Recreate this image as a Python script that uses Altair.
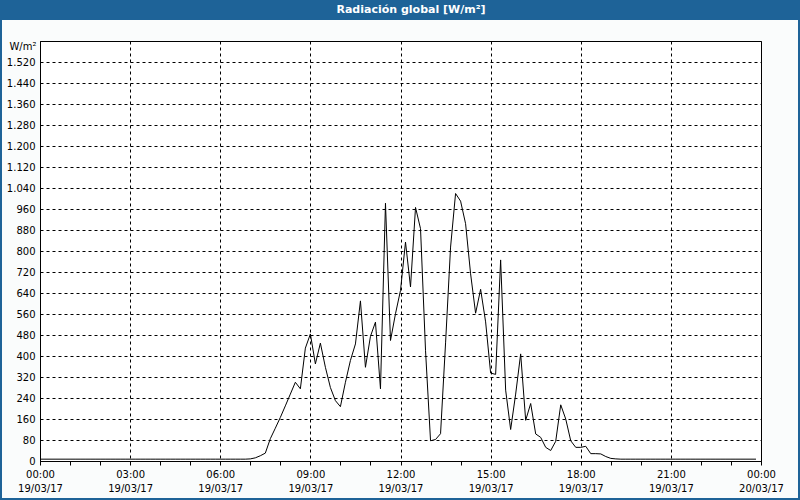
import altair as alt
import pandas as pd

# 10-minute samples over the day 19/03/17
times = [f"{h:02d}:{m:02d}" for h in range(24) for m in range(0, 60, 10)]
night_am = [7] * 42          # 00:00 - 06:50
daytime = [8, 12, 20, 30, 85, 125, 166, 210, 255, 300,
           275, 430, 484, 370, 449, 357, 280, 230, 207, 300,
           383, 446, 610, 357, 475, 529, 275, 982, 459, 561,
           650, 834, 663, 966, 885, 420, 77, 82, 104, 450,
           815, 1019, 990, 904, 713, 563, 654, 530, 335, 330,
           766, 270, 120, 255, 408, 155, 219, 103, 90, 52,
           40, 75, 214, 160, 77, 52, 52, 56, 28, 28,
           27, 17, 10, 8]   # 07:00 - 19:10
night_pm = [7] * 28          # 19:20 - 23:50
radiation = night_am + daytime + night_pm

tick_times = ["00:00", "03:00", "06:00", "09:00", "12:00", "15:00", "18:00", "21:00", "00:00"]
tick_dates = ["19/03/17"] * 8 + ["20/03/17"]
hour_ticks = list(range(0, 25))
y_ticks = list(range(0, 1600, 80))

title_text = "Radiación global [W/m²]"
unit_text = "W/m²"

df = pd.DataFrame({
    "hour": [int(t[:2]) + int(t[3:]) / 60 for t in times],
    "rad": radiation,
})

FONT = "DejaVu Sans"
BLUE = "#1e6398"
BG = "#fafcfc"

T = "[" + ",".join(f"'{t}'" for t in tick_times) + "]"
D = "[" + ",".join(f"'{d}'" for d in tick_dates) + "]"
x_label_expr = f"datum.value % 3 != 0 ? '' : [{T}[datum.value / 3], {D}[datum.value / 3]]"

line = alt.Chart(df).mark_line(color="black", strokeWidth=1).encode(
    x=alt.X("hour:Q",
            scale=alt.Scale(domain=[0, 24], nice=False, zero=False),
            axis=alt.Axis(values=hour_ticks, labelExpr=x_label_expr, title=None,
                          grid=True, gridDash=[3, 3], gridColor="black",
                          gridOpacity={"condition": {"test": "datum.value % 3 == 0", "value": 1}, "value": 0},
                          tickSize=4, tickColor="black", domainColor="black",
                          labelFlush=False, labelOverlap=False, labelPadding=4,
                          labelLineHeight=14.5, labelBaseline="top",
                          labelFont=FONT, labelFontSize=10, labelColor="black")),
    y=alt.Y("rad:Q",
            scale=alt.Scale(domain=[0, 1600], nice=False),
            axis=alt.Axis(values=y_ticks,
                          labelExpr="replace(format(datum.value, ','), ',', '.')",
                          title=unit_text, titleAngle=0, titleAlign="right",
                          titleBaseline="middle", titleX=-4, titleY=5,
                          titleFont=FONT, titleFontSize=10, titleFontWeight="normal",
                          titleColor="black",
                          grid=True, gridDash=[3, 3], gridColor="black",
                          ticks=False, labelPadding=5, domainColor="black",
                          labelFont=FONT, labelFontSize=10, labelColor="black")),
)

one = alt.Data(values=[{}])
bar = alt.Chart(one).mark_rect(color=BLUE).encode(
    x=alt.value(-40), x2=alt.value(760), y=alt.value(-41), y2=alt.value(-21))
left_b = alt.Chart(one).mark_rect(color=BLUE).encode(
    x=alt.value(-40), x2=alt.value(-38), y=alt.value(-41), y2=alt.value(459))
right_b = alt.Chart(one).mark_rect(color=BLUE).encode(
    x=alt.value(758), x2=alt.value(760), y=alt.value(-41), y2=alt.value(459))
bottom_b = alt.Chart(one).mark_rect(color=BLUE).encode(
    x=alt.value(-40), x2=alt.value(760), y=alt.value(457), y2=alt.value(459))
title = alt.Chart(one).mark_text(color="white", font=FONT, fontSize=11,
                                 fontWeight="bold", align="center", baseline="middle").encode(
    x=alt.value(371), y=alt.value(-31), text=alt.value(title_text))

chart = alt.layer(line, bar, left_b, right_b, bottom_b, title).properties(
    width=721, height=420,
    autosize=alt.AutoSizeParams(type="none"),
    padding={"left": 40, "top": 41, "right": 39, "bottom": 39},
    background=BG,
).configure_view(stroke="black", strokeWidth=1, fill="white")

chart.save("out.html", embed_options={"renderer": "svg", "actions": False})
